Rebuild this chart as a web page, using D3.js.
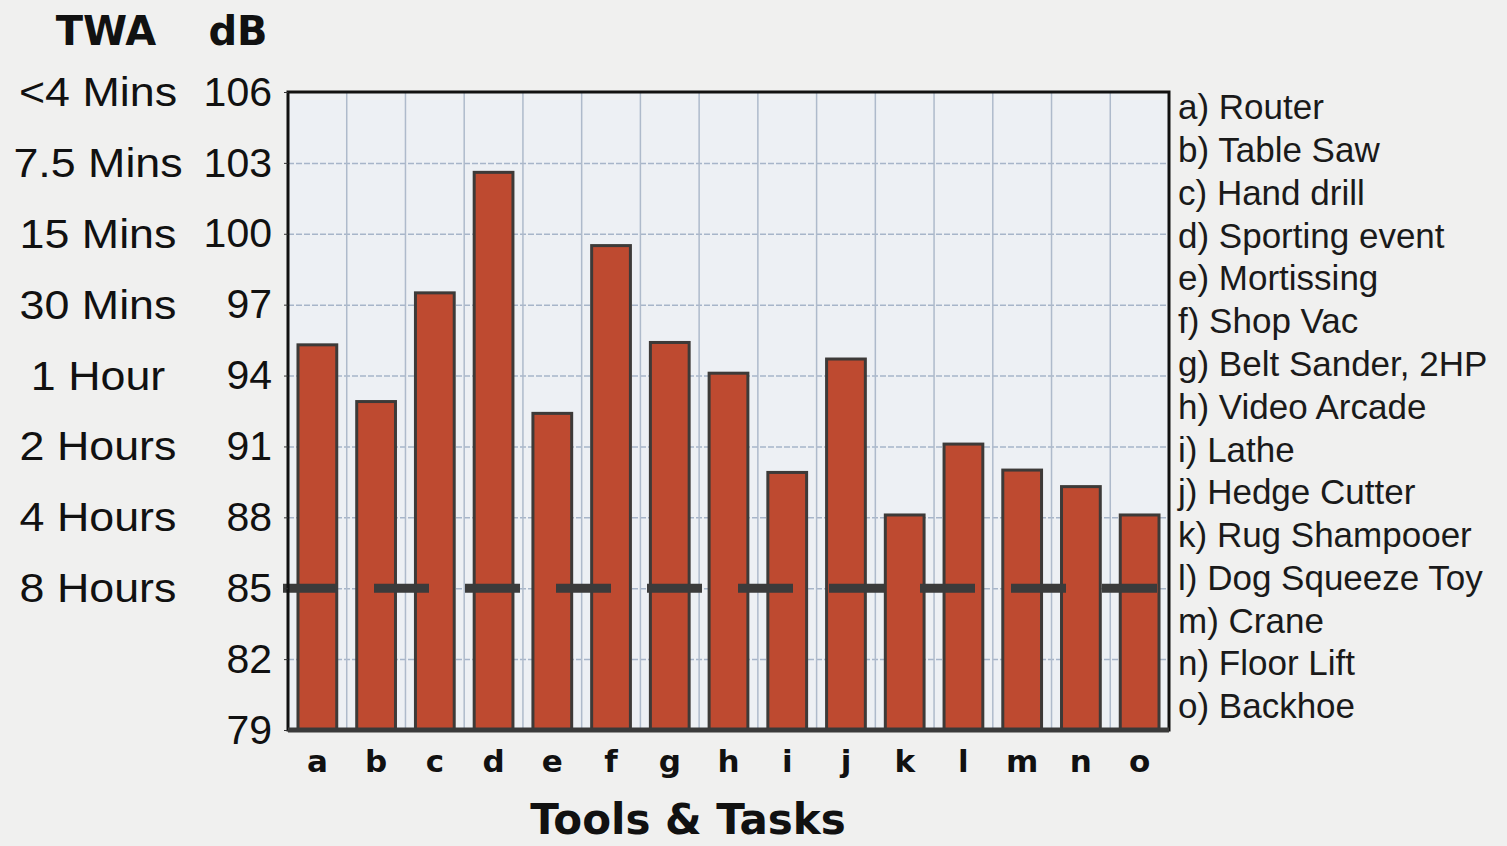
<!DOCTYPE html>
<html>
<head>
<meta charset="utf-8">
<script src="https://cdn.jsdelivr.net/npm/d3@7"></script>
<style>
  body { margin: 0; background: #f0f0ef; }
  svg { display: block; }
</style>
</head>
<body>
<div id="chart"></div>
<script>
// categories, legend names and sound levels
const letters = ["a", "b", "c", "d", "e", "f", "g", "h", "i", "j", "k", "l", "m", "n", "o"]
const tools = ["Router", "Table Saw", "Hand drill", "Sporting event", "Mortissing", "Shop Vac",
    "Belt Sander, 2HP", "Video Arcade", "Lathe", "Hedge Cutter", "Rug Shampooer",
    "Dog Squeeze Toy", "Crane", "Floor Lift", "Backhoe"]
const levels = [95.3, 92.9, 97.5, 102.6, 92.4, 99.5, 95.4, 94.1, 89.9, 94.7, 88.1, 91.1, 90.0, 89.3, 88.1]

const dbTicks = [79, 82, 85, 88, 91, 94, 97, 100, 103, 106]
const twaTicks = [106, 103, 100, 97, 94, 91, 88, 85]
const twaLabels = ["<4 Mins", "7.5 Mins", "15 Mins", "30 Mins", "1 Hour", "2 Hours", "4 Hours", "8 Hours"]
const limitDb = 85

var margin = { top: 92, right: 338, bottom: 116, left: 288 },
    width = 1507 - margin.left - margin.right,
    height = 846 - margin.top - margin.bottom;

var svg = d3.select("#chart")
    .append("svg")
    .attr("width", 1507)
    .attr("height", 846)

var g = svg.append("g")
    .attr("transform", "translate(" + margin.left + "," + margin.top + ")")

// plot background
g.append("rect")
    .attr("width", width)
    .attr("height", height)
    .style("fill", "#edf0f4")

var x = d3.scaleBand()
    .domain(letters)
    .range([0, width])
    .paddingInner(0.34)
    .paddingOuter(0.17)

var y = d3.scaleLinear()
    .domain([79, 106])
    .range([height, 0])

// horizontal grid
g.append("g")
    .call(d3.axisLeft(y).tickValues(dbTicks.slice(1, -1)).tickSize(-width).tickFormat(""))
    .call(s => s.select(".domain").remove())
    .selectAll("line")
    .style("stroke", "#a7b5c9")
    .style("stroke-width", 1.5)
    .style("stroke-dasharray", "6,2")

// vertical grid on the band borders
g.append("g")
    .selectAll("line")
    .data(letters.slice(1))
    .enter()
    .append("line")
    .attr("x1", d => x(d) - x.step() * x.paddingInner() / 2)
    .attr("x2", d => x(d) - x.step() * x.paddingInner() / 2)
    .attr("y1", 0)
    .attr("y2", height)
    .style("stroke", "#aebacb")
    .style("stroke-width", 1.5)

// bars
g.append("g")
    .selectAll("rect")
    .data(levels)
    .enter()
    .append("rect")
    .attr("x", (d, i) => x(letters[i]))
    .attr("y", d => y(d))
    .attr("width", x.bandwidth())
    .attr("height", d => height - y(d))
    .style("fill", "#be4a30")
    .style("stroke", "#3d3a38")
    .style("stroke-width", 3)

// 85 dB dashed limit line
g.append("line")
    .attr("x1", -5)
    .attr("x2", width - 9)
    .attr("y1", y(limitDb))
    .attr("y2", y(limitDb))
    .style("stroke", "#3b3b3b")
    .style("stroke-width", 9)
    .style("stroke-dasharray", "55,36")

// frame
g.append("rect")
    .attr("width", width)
    .attr("height", height)
    .style("fill", "none")
    .style("stroke", "#111")
    .style("stroke-width", 3)
g.append("line")
    .attr("x1", 0).attr("x2", width)
    .attr("y1", height).attr("y2", height)
    .style("stroke", "#3a3a3a")
    .style("stroke-width", 5)

// dB axis
var yAxis = g.append("g")
    .call(d3.axisLeft(y).tickValues(dbTicks).tickSize(4).tickPadding(12))
yAxis.select(".domain").remove()
yAxis.selectAll("line").style("stroke", "#333")
yAxis.selectAll("text")
    .style("font-family", "'Liberation Sans', Arial, sans-serif")
    .style("font-size", "41px")
    .style("fill", "#111")

// TWA labels, slightly widened like the original scan
var twa = svg.append("g")
    .selectAll("g")
    .data(twaTicks)
    .enter()
    .append("g")
    .attr("transform", d => "translate(98," + (margin.top + y(d)) + ") scale(1.12,1)")
twa.append("text")
    .attr("text-anchor", "middle")
    .attr("dy", "0.35em")
    .style("font-family", "'Liberation Sans', Arial, sans-serif")
    .style("font-size", "40px")
    .style("fill", "#111")
    .text((d, i) => twaLabels[i])

// column headers
svg.append("text")
    .attr("x", 106)
    .attr("y", 45)
    .attr("text-anchor", "middle")
    .style("font-family", "'DejaVu Sans', sans-serif")
    .style("font-weight", "bold")
    .style("font-size", "40px")
    .style("fill", "#111")
    .text("TWA")
svg.append("text")
    .attr("x", 238)
    .attr("y", 45)
    .attr("text-anchor", "middle")
    .style("font-family", "'DejaVu Sans', sans-serif")
    .style("font-weight", "bold")
    .style("font-size", "40px")
    .style("fill", "#111")
    .text("dB")

// letter axis
var xAxis = g.append("g")
    .attr("transform", "translate(0," + height + ")")
    .call(d3.axisBottom(x).tickSize(0).tickPadding(20))
xAxis.select(".domain").remove()
xAxis.selectAll("text")
    .style("font-family", "'DejaVu Sans', sans-serif")
    .style("font-weight", "bold")
    .style("font-size", "31px")
    .style("fill", "#111")

// x title
svg.append("text")
    .attr("x", 688)
    .attr("y", 834)
    .attr("text-anchor", "middle")
    .style("font-family", "'DejaVu Sans', sans-serif")
    .style("font-weight", "bold")
    .style("font-size", "42px")
    .style("fill", "#111")
    .text("Tools & Tasks")

// legend list on the right
var legendY = d3.scaleLinear()
    .domain([0, letters.length - 1])
    .range([107, 706])

svg.append("g")
    .selectAll("text")
    .data(tools)
    .enter()
    .append("text")
    .attr("x", 1178)
    .attr("y", (d, i) => legendY(i))
    .attr("dy", "0.35em")
    .style("font-family", "'Liberation Sans', Arial, sans-serif")
    .style("font-size", "35px")
    .style("fill", "#1a1a1a")
    .text((d, i) => letters[i] + ") " + d)
</script>
</body>
</html>
